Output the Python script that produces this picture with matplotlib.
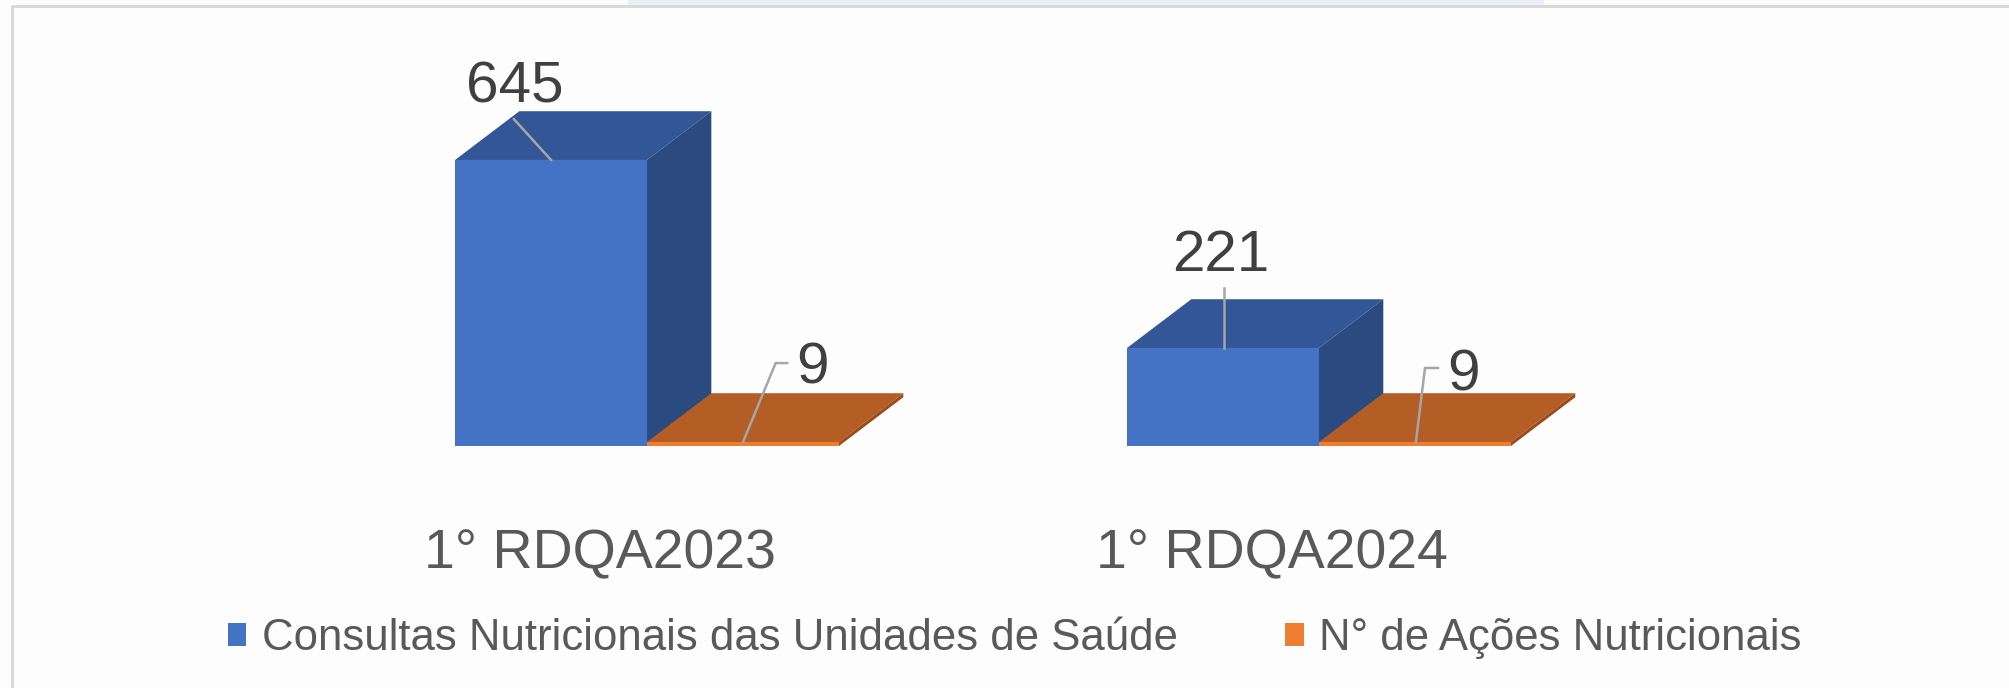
import matplotlib.pyplot as plt
from matplotlib.patches import Polygon, Rectangle
from matplotlib.lines import Line2D

plt.rcParams['font.family'] = ['Liberation Sans', 'DejaVu Sans']

categories = ['1° RDQA2023', '1° RDQA2024']
series_names = ['Consultas Nutricionais das Unidades de Saúde', 'N° de Ações Nutricionais']
consultas = [645, 221]
acoes = [9, 9]

# colours: front, top, side
blue = ('#4472C4', '#335796', '#2A4A80')
orange = ('#ED7D31', '#B45D24', '#9A4C1B')

DX, DY = 0.335, 110      # fake 3d depth (x in bar widths, y in value units)
GROUP_STEP = 3.5

fig = plt.figure(figsize=(20.09, 6.88), dpi=100)
fig.patch.set_facecolor('#FDFDFD')
ax = fig.add_axes([0, 0, 1, 1])
ax.set_xlim(-2.370, 8.094)
ax.set_ylim(-545.8, 1005.8)
ax.axis('off')


def box(x0, h, cols):
    ax.bar(x0, h, width=1, align='edge', color=cols[0], linewidth=0, zorder=2)
    ax.add_patch(Polygon([(x0, h), (x0 + DX, h + DY), (x0 + 1 + DX, h + DY), (x0 + 1, h)],
                         closed=True, facecolor=cols[1], linewidth=0, zorder=2))
    ax.add_patch(Polygon([(x0 + 1, 0), (x0 + 1 + DX, DY), (x0 + 1 + DX, h + DY), (x0 + 1, h)],
                         closed=True, facecolor=cols[2], linewidth=0, zorder=2))


lead = dict(color='#A6A6A6', lw=1.8, zorder=3)
lab = dict(fontsize=42, color='#404040', ha='center', va='center', zorder=4)

for i, cat in enumerate(categories):
    x0 = i * GROUP_STEP
    box(x0, consultas[i], blue)
    box(x0 + 1, acoes[i], orange)
    ax.text(x0 + 0.755, -245, cat, fontsize=40, color='#595959', ha='center', va='center')

# value labels with leader lines
v = consultas[0]
ax.text(0.31, v + 163, str(v), **lab)
ax.add_line(Line2D([0.307, 0.5], [v + 92, v], **lead))

v = consultas[1]
ax.text(GROUP_STEP + 0.49, v + 208, str(v), **lab)
ax.add_line(Line2D([GROUP_STEP + 0.505, GROUP_STEP + 0.505], [v + 135, v], **lead))

v = acoes[0]
ax.text(1.5 + 0.36, v + 165, str(v), **lab)
ax.add_line(Line2D([1.5 + 0.23, 1.5 + 0.17, 1.5], [v + 178, v + 178, v], **lead))

v = acoes[1]
ax.text(GROUP_STEP + 1.5 + 0.255, v + 149, str(v), **lab)
ax.add_line(Line2D([GROUP_STEP + 1.5 + 0.12, GROUP_STEP + 1.5 + 0.052, GROUP_STEP + 1.505],
                   [v + 167, v + 167, v], **lead))

handles = [Rectangle((0, 0), 1, 1, facecolor=blue[0]), Rectangle((0, 0), 1, 1, facecolor=orange[0])]
fig.legend(handles, series_names, loc='center', bbox_to_anchor=(0.505, 0.072), ncol=2,
           frameon=False, fontsize=31.5, labelcolor='#595959', handlelength=0.43, handleheight=0.43,
           handletextpad=0.35, columnspacing=2.45)

# outer frame (only top and left edges are visible)
fig.add_artist(Rectangle((628 / 2009, 1 - 5 / 688), 916 / 2009, 5 / 688, transform=fig.transFigure,
                         facecolor='#EBEEF7', linewidth=0))
fig.add_artist(Line2D([12 / 2009, 12 / 2009, 1], [0, 1 - 6 / 688, 1 - 6 / 688], transform=fig.transFigure,
                      color='#D9D9D9', linewidth=2.2, zorder=0))

fig.savefig('out.png', dpi=100, facecolor=fig.get_facecolor())
